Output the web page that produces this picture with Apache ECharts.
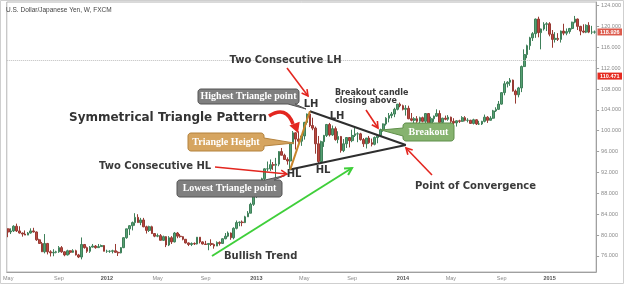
<!DOCTYPE html>
<html><head><meta charset="utf-8">
<script src="https://cdn.jsdelivr.net/npm/echarts@6/dist/echarts.min.js"></script>
<style>html,body{margin:0;padding:0;background:#fff}#c{width:624px;height:284px}</style>
</head><body><div id="c"></div><script>
const chartTitle = 'U.S. Dollar/Japanese Yen, W, FXCM';
// weekly candles: [weekStart, open, close, low, high]
const weeks2011 = [
['2011-05-01',81.2,80.6,79.6,81.3],['2011-05-08',80.6,80.8,80.2,81.3],['2011-05-15',80.8,81.7,80.6,81.9],['2011-05-22',81.7,80.8,80.6,82.2],
['2011-05-29',80.8,80.4,80.3,81.7],['2011-06-05',80.4,80.2,79.7,80.5],['2011-06-12',80.2,80.0,80.0,80.9],['2011-06-19',80.0,80.4,80.0,80.6],
['2011-06-26',80.4,80.8,80.3,81.3],['2011-07-03',80.8,80.6,80.5,81.4],['2011-07-10',80.6,79.1,78.9,80.7],['2011-07-17',79.1,78.4,78.4,79.3],
['2011-07-24',78.4,76.8,76.8,78.7],['2011-07-31',76.8,78.4,76.5,80.2],['2011-08-07',78.4,76.8,76.3,78.5],['2011-08-14',76.8,76.6,75.9,77.1],
['2011-08-21',76.6,76.7,75.95,77.3],['2011-08-28',76.7,76.8,76.5,77.0],['2011-09-04',76.8,77.6,76.6,77.9],['2011-09-11',77.6,76.8,76.6,77.9],
['2011-09-18',76.8,76.2,75.95,76.9],['2011-09-25',76.2,77.0,76.1,77.2],['2011-10-02',77.0,76.7,76.3,77.1],['2011-10-09',76.7,77.0,76.6,77.3],
['2011-10-16',77.0,76.2,76.1,77.2],['2011-10-23',76.2,75.8,75.6,76.4],['2011-10-30',75.8,78.2,75.35,79.55],['2011-11-06',78.2,77.6,77.4,78.3],
['2011-11-13',77.6,76.9,76.6,77.8],['2011-11-20',76.9,77.7,76.6,77.9],['2011-11-27',77.7,77.9,77.6,78.3],['2011-12-04',77.9,77.6,77.4,78.1],
['2011-12-11',77.6,77.8,77.6,78.3],['2011-12-18',77.8,78.0,77.8,78.2],['2011-12-25',78.0,76.9,76.9,78.1]
];
const weeks2012 = [
['2012-01-01',76.9,76.9,76.6,77.2],['2012-01-08',76.9,76.9,76.6,77.1],['2012-01-15',76.9,77.0,76.5,77.2],['2012-01-22',77.0,76.7,76.6,78.3],
['2012-01-29',76.7,76.6,76.0,76.9],['2012-02-05',76.6,77.6,76.5,77.7],['2012-02-12',77.6,79.5,77.5,79.6],['2012-02-19',79.5,81.2,79.3,81.2],
['2012-02-26',81.2,81.8,80.0,81.9],['2012-03-04',81.8,82.4,80.9,82.6],['2012-03-11',82.4,83.4,81.8,84.2],['2012-03-18',83.4,82.4,82.4,84.0],
['2012-03-25',82.4,82.9,81.9,83.3],['2012-04-01',82.9,81.6,81.5,83.3],['2012-04-08',81.6,80.9,80.3,81.8],['2012-04-15',80.9,81.6,80.6,81.8],
['2012-04-22',81.6,80.3,80.2,81.8],['2012-04-29',80.3,79.8,79.6,80.4],['2012-05-06',79.8,79.9,79.6,80.3],['2012-05-13',79.9,79.0,79.0,80.2],
['2012-05-20',79.0,79.7,78.9,79.9],['2012-05-27',79.7,78.1,77.7,79.8],['2012-06-03',78.1,79.5,77.9,79.8],['2012-06-10',79.5,78.7,78.3,79.8],
['2012-06-17',78.7,80.4,78.6,80.6],['2012-06-24',80.4,79.8,79.4,80.6],['2012-07-01',79.8,79.7,79.5,80.2],['2012-07-08',79.7,79.2,79.0,79.8],
['2012-07-15',79.2,78.5,78.4,79.2],['2012-07-22',78.5,78.2,77.9,78.6],['2012-07-29',78.2,78.4,77.9,78.6],['2012-08-05',78.4,78.3,78.1,78.6],
['2012-08-12',78.3,79.6,78.2,79.6],['2012-08-19',79.6,78.7,78.4,79.6],['2012-08-26',78.7,78.3,78.2,78.8],['2012-09-02',78.3,78.2,78.1,78.9],
['2012-09-09',78.2,78.4,77.1,78.4],['2012-09-16',78.4,78.2,77.9,79.2],['2012-09-23',78.2,77.9,77.4,78.4],['2012-09-30',77.9,78.6,77.9,78.8],
['2012-10-07',78.6,78.4,78.0,78.8],['2012-10-14',78.4,79.3,78.4,79.4],['2012-10-21',79.3,79.8,79.2,80.4],['2012-10-28',79.8,80.4,79.6,80.7],
['2012-11-04',80.4,79.5,79.1,80.5],['2012-11-11',79.5,81.3,79.2,81.5],['2012-11-18',81.3,82.4,81.1,82.8],['2012-11-25',82.4,82.5,81.7,82.6],
['2012-12-02',82.5,82.4,81.7,82.8],['2012-12-09',82.4,83.5,82.3,83.7],['2012-12-16',83.5,84.2,83.5,84.6],['2012-12-23',84.2,85.9,84.2,86.2],
['2012-12-30',85.9,88.2,85.6,88.4]
];
const weeks2013 = [
['2013-01-06',88.2,89.2,87.1,89.3],['2013-01-13',89.2,90.1,87.8,90.2],['2013-01-20',90.1,90.8,88.1,91.0],['2013-01-27',90.8,92.7,90.2,92.8],
['2013-02-03',92.7,92.7,92.2,94.1],['2013-02-10',92.7,93.5,92.3,94.5],['2013-02-17',93.5,93.4,92.5,94.0],['2013-02-24',93.4,93.6,90.9,94.8],
['2013-03-03',93.6,96.0,93.2,96.1],['2013-03-10',96.0,95.3,95.3,96.7],['2013-03-17',95.3,94.5,94.4,95.6],['2013-03-24',94.5,94.2,93.5,94.9],
['2013-03-31',94.2,97.5,92.56,97.6],['2013-04-07',97.5,99.6,97.5,99.95],['2013-04-14',99.6,98.4,96.4,99.7],['2013-04-21',98.4,98.0,97.7,99.9],
['2013-04-28',98.0,99.0,97.1,99.2],['2013-05-05',99.0,101.6,98.3,101.7],['2013-05-12',101.6,103.2,101.2,103.3],['2013-05-19',103.2,101.0,100.7,103.74],
['2013-05-26',101.0,100.5,100.1,102.5],['2013-06-02',100.5,97.5,95.6,100.8],['2013-06-09',97.5,94.1,93.8,99.0],['2013-06-16',94.1,97.9,93.9,98.1],
['2013-06-23',97.9,99.1,96.9,99.2],['2013-06-30',99.1,101.2,98.8,101.3],['2013-07-07',101.2,99.2,98.9,101.5],['2013-07-14',99.2,100.4,99.0,101.0],
['2013-07-21',100.4,98.3,98.1,100.8],['2013-07-28',98.3,98.9,97.6,99.9],['2013-08-04',98.9,96.2,95.8,99.0],['2013-08-11',96.2,97.5,95.9,98.4],
['2013-08-18',97.5,98.7,96.7,98.8],['2013-08-25',98.7,98.1,96.8,98.8],['2013-09-01',98.1,99.1,97.8,100.2],['2013-09-08',99.1,99.4,98.8,100.6],
['2013-09-15',99.4,99.4,97.8,99.7],['2013-09-22',99.4,98.3,98.1,99.6],['2013-09-29',98.3,97.5,96.9,98.6],['2013-10-06',97.5,98.6,96.6,98.6],
['2013-10-13',98.6,97.7,97.5,99.0],['2013-10-20',97.7,97.4,97.0,98.5],['2013-10-27',97.4,98.7,97.2,98.9],['2013-11-03',98.7,99.1,97.6,99.1],
['2013-11-10',99.1,100.2,98.8,100.4],['2013-11-17',100.2,101.3,99.8,101.4],['2013-11-24',101.3,102.4,101.0,102.6],['2013-12-01',102.4,102.9,101.6,103.4],
['2013-12-08',102.9,103.2,102.4,103.6],['2013-12-15',103.2,104.1,102.6,104.4],['2013-12-22',104.1,105.1,103.9,105.1],['2013-12-29',105.1,104.8,104.5,105.4]
];
const weeks2014 = [
['2014-01-05',104.8,104.1,103.9,105.0],['2014-01-12',104.1,104.3,102.9,104.9],['2014-01-19',104.3,102.3,102.2,104.8],['2014-01-26',102.3,102.0,101.8,103.4],
['2014-02-02',102.0,102.3,100.8,102.6],['2014-02-09',102.3,101.8,101.5,102.8],['2014-02-16',101.8,102.5,101.3,102.7],['2014-02-23',102.5,101.8,101.6,102.7],
['2014-03-02',101.8,103.3,101.2,103.4],['2014-03-09',103.3,101.3,101.2,103.4],['2014-03-16',101.3,102.3,101.2,102.7],['2014-03-23',102.3,102.8,101.7,102.9],
['2014-03-30',102.8,103.3,102.7,104.1],['2014-04-06',103.3,101.6,101.3,103.9],['2014-04-13',101.6,102.4,101.3,102.5],['2014-04-20',102.4,102.2,102.0,102.9],
['2014-04-27',102.2,102.6,101.9,103.0],['2014-05-04',102.6,101.8,101.4,102.7],['2014-05-11',101.8,101.5,101.1,102.4],['2014-05-18',101.5,101.9,100.8,102.0],
['2014-05-25',101.9,101.8,101.5,102.1],['2014-06-01',101.8,102.5,101.7,102.8],['2014-06-08',102.5,102.0,101.8,102.8],['2014-06-15',102.0,102.0,101.6,102.4],
['2014-06-22',102.0,101.4,101.4,102.1],['2014-06-29',101.4,102.1,101.2,102.3],['2014-07-06',102.1,101.3,101.1,102.2],['2014-07-13',101.3,101.3,101.1,101.9],
['2014-07-20',101.3,101.8,101.1,101.9],['2014-07-27',101.8,102.6,101.6,103.1],['2014-08-03',102.6,102.0,101.5,102.8],['2014-08-10',102.0,102.4,102.0,102.8],
['2014-08-17',102.4,103.8,102.3,104.0],['2014-08-24',103.8,104.1,103.6,104.5],['2014-08-31',104.1,105.1,104.0,105.7],['2014-09-07',105.1,107.3,105.0,107.4],
['2014-09-14',107.3,109.0,106.8,109.5],['2014-09-21',109.0,109.3,108.3,109.5],['2014-09-28',109.3,109.7,108.6,110.1],['2014-10-05',109.7,107.6,107.5,109.8],
['2014-10-12',107.6,106.9,105.2,107.9],['2014-10-19',106.9,108.2,106.4,108.4],['2014-10-26',108.2,112.3,107.4,112.5],['2014-11-02',112.3,114.6,112.2,115.6],
['2014-11-09',114.6,116.3,113.9,116.5],['2014-11-16',116.3,117.8,115.5,118.0],['2014-11-23',117.8,118.6,117.2,118.9],['2014-11-30',118.6,121.4,117.8,121.5],
['2014-12-07',121.4,118.8,117.9,121.85],['2014-12-14',118.8,119.5,115.6,119.6],['2014-12-21',119.5,120.4,119.2,120.8],['2014-12-28',120.4,120.5,119.1,120.8]
];
const weeks2015 = [
['2015-01-04',120.5,118.5,118.1,120.8],['2015-01-11',118.5,117.5,115.9,119.3],['2015-01-18',117.5,117.7,116.9,118.9],['2015-01-25',117.7,117.5,117.2,118.7],
['2015-02-01',117.5,119.1,116.9,119.2],['2015-02-08',119.1,118.7,118.3,120.5],['2015-02-15',118.7,119.0,118.3,119.6],['2015-02-22',119.0,119.6,118.6,119.7],
['2015-03-01',119.6,120.8,119.4,120.9],['2015-03-08',120.8,121.4,120.6,122.0],['2015-03-15',121.4,120.0,119.3,121.5],['2015-03-22',120.0,119.1,118.3,120.1],
['2015-03-29',119.1,118.9,118.7,120.4],['2015-04-05',118.9,120.2,118.7,120.4],['2015-04-12',120.2,118.9,118.7,120.8],['2015-04-19',118.9,118.9,118.5,120.1],
['2015-04-26',118.9,118.926,118.6,119.2]
];
const yTickValues = [76,80,84,88,92,96,100,104,108,112,116,120,124];
const lastPrice = 118.926;
const markerPrice = 110.471;
const guidePrice = 113.42;
const triangleUpper = [['2013-05-19',103.74],['2014-01-12',97.27]];
const triangleLower = [['2013-03-31',92.56],['2014-01-12',97.27]];
const triangleHeight = [['2013-03-31',92.56],['2013-05-19',103.74]];

const rows = [].concat(weeks2011, weeks2012, weeks2013, weeks2014, weeks2015);
const dates = rows.map(r => r[0]);
const ohlc = rows.map(r => [r[1], r[2], r[3], r[4]]);
const monthLabel = {5:'May', 9:'Sep'};
function isLabelWeek(d){ const m=+d.slice(5,7), day=+d.slice(8,10); return day<=7 && (m===1||m===5||m===9); }

const chart = echarts.init(document.getElementById('c'), null, {renderer:'canvas'});
chart.setOption({
  animation:false,
  backgroundColor:'#fff',
  grid:{left:2, right:27, top:2, bottom:12, show:true, borderColor:'#b4b4b4', borderWidth:1},
  xAxis:{type:'category', data:dates, boundaryGap:true,
    axisLine:{lineStyle:{color:'#a0a0a0'}},
    axisTick:{interval:(i,v)=>isLabelWeek(dates[i]), length:3, lineStyle:{color:'#a0a0a0'}},
    axisLabel:{interval:(i,v)=>isLabelWeek(dates[i]), margin:3, fontSize:5.5, color:'#8a8a8a', fontFamily:'Liberation Sans',
      formatter:v=>{const m=+v.slice(5,7); return m===1 ? '{y|'+v.slice(0,4)+'}' : '{m|'+monthLabel[m]+'}';},
      rich:{y:{fontSize:5.5, fontWeight:'bold', color:'#555', fontFamily:'Liberation Sans'}, m:{fontSize:5.5, color:'#8a8a8a', fontFamily:'Liberation Sans'}}},
    splitLine:{show:false}},
  yAxis:{type:'value', position:'right', min:72.93, max:124.67, scale:true,
    axisLine:{show:true, lineStyle:{color:'#a0a0a0'}},
    axisTick:{show:true, length:3, customValues:yTickValues, lineStyle:{color:'#a0a0a0'}},
    axisLabel:{customValues:yTickValues, margin:5, fontSize:5.5, color:'#8a8a8a', fontFamily:'Liberation Sans', formatter:v=>v.toFixed(3)},
    splitLine:{show:false}},
  series:[{type:'candlestick', data:ohlc, barWidth:2.2,
    itemStyle:{color:'#56a072', color0:'#bb4840', borderColor:'#3f805a', borderColor0:'#983a33', borderWidth:1},
    markLine:{silent:true, symbol:['none','none'], label:{show:false}, animation:false,
      data:[
        {yAxis:guidePrice, lineStyle:{type:'dotted', color:'#bdbdbd', width:1}},
        [{coord:triangleUpper[0], lineStyle:{color:'#2e2e2e', width:2, type:'solid'}}, {coord:triangleUpper[1]}],
        [{coord:triangleLower[0], lineStyle:{color:'#2e2e2e', width:2, type:'solid'}}, {coord:triangleLower[1]}],
        [{coord:triangleHeight[0], lineStyle:{color:'#c8852b', width:2, type:'solid'}}, {coord:triangleHeight[1]}]
      ]}}]
});

const RED='#e3261f', DARK='#3a3a3a';
const G=[];
function txt(text,x,y,font,fill,align){ return {type:'text', x:x, y:y, z:120, silent:true,
  style:{text:text, font:font, fill:fill, textAlign:align||'left', align:align||'left', textVerticalAlign:'middle', verticalAlign:'middle'}}; }
function arrow(x1,y1,x2,y2,color,w,hl){ const a=Math.atan2(y2-y1,x2-x1), s=0.5;
  return [{type:'line', z:110, silent:true, shape:{x1,y1,x2,y2}, style:{stroke:color, lineWidth:w}},
    {type:'polyline', z:110, silent:true, shape:{points:[[x2-hl*Math.cos(a-s),y2-hl*Math.sin(a-s)],[x2,y2],[x2-hl*Math.cos(a+s),y2-hl*Math.sin(a+s)]]}, style:{stroke:color, lineWidth:w, fill:null}}]; }
function callout(x,y,w,h,r,side,tail,fill,stroke){
  const pts=[]; const arc=(cx,cy,a0)=>{for(let i=0;i<=4;i++){const a=a0+i*Math.PI/8; pts.push([cx+r*Math.cos(a), cy+r*Math.sin(a)]);}};
  arc(x+r,y+r,Math.PI); if(side==='top') pts.push(...tail);
  arc(x+w-r,y+r,1.5*Math.PI); if(side==='right') pts.push(...tail);
  arc(x+w-r,y+h-r,0); if(side==='bottom') pts.push(...tail);
  arc(x+r,y+h-r,0.5*Math.PI); if(side==='left') pts.push(...tail);
  return {type:'polygon', z:105, silent:true, shape:{points:pts}, style:{fill:fill, stroke:stroke, lineWidth:1}};
}
// outer frame & title
G.push({type:'rect', z:1, silent:true, shape:{x:0.5,y:0.5,width:623,height:283}, style:{fill:null, stroke:'#cfcfcf', lineWidth:1}});
G.push(txt(chartTitle,6,10,'6.5px "Liberation Sans"','#444'));
// price tags
[[lastPrice,'#dc5a4c'],[markerPrice,'#e52a20']].forEach(([v,c])=>{
  const y=chart.convertToPixel({yAxisIndex:0}, v);
  G.push({type:'rect', z:120, silent:true, shape:{x:597.5,y:y-3.5,width:24.5,height:7}, style:{fill:c}});
  G.push(txt(v.toFixed(3),609.8,y+0.3,'bold 5.5px "Liberation Sans"','#fff','center'));
});
// bold annotation texts
const B10='bold 10px "DejaVu Sans"';
G.push(txt('Two Consecutive LH',285.5,60.5,B10,DARK,'center'));
G.push(txt('Symmetrical Triangle Pattern',69,117.5,'bold 12px "DejaVu Sans"','#333'));
G.push(txt('Two Consecutive HL',99,166.5,B10,DARK));
G.push(txt('Point of Convergence',415,186.5,B10,DARK));
G.push(txt('Bullish Trend',224,256.5,B10,DARK));
G.push(txt('Breakout candle',335,92.5,'bold 8px "DejaVu Sans"',DARK));
G.push(txt('closing above',335,100.8,'bold 8px "DejaVu Sans"',DARK));
G.push(txt('LH',311,104,B10,'#333','center'));
G.push(txt('LH',337,116,B10,'#333','center'));
G.push(txt('HL',294,174.5,B10,'#333','center'));
G.push(txt('HL',323,170.5,B10,'#333','center'));
// callouts
const S10='bold 10px "Liberation Serif"';
G.push(callout(198,89,101,15,3,'bottom',[[295,104],[306,109],[288,104]],'#7f7f7f','#555'));
G.push(txt('Highest Triangle point',248.5,96.8,S10,'#fff','center'));
G.push(callout(177,180,105,17,3,'top',[[265,180],[285,175.5],[274,180]],'#7f7f7f','#555'));
G.push(txt('Lowest Triangle point',229.5,188.8,S10,'#fff','center'));
G.push(callout(188,133,76,18,3,'right',[[264,138],[294,143],[264,146]],'#d6a560','#b4823d'));
G.push(txt('Triangle Height',226,142.3,S10,'#fff','center'));
G.push(callout(403,123,51,18,3,'left',[[403,136],[381,130],[403,128]],'#86b36f','#5f8f4a'));
G.push(txt('Breakout',428.5,132.3,S10,'#fff','center'));
// arrows
G.push(...arrow(287,68,308,96,RED,1.6,7));
G.push(...arrow(215,167,287,174,RED,1.6,7));
G.push(...arrow(366,110,378,128,RED,1.6,7));
G.push(...arrow(432,175,406,148,RED,1.6,7));
G.push(...arrow(212,256,352,168,'#3fcf3a',2,8));
// curved thick arrow
G.push({type:'bezierCurve', z:110, silent:true, shape:{x1:269,y1:116,cpx1:286,cpy1:105,x2:293,y2:124}, style:{stroke:RED, lineWidth:3.6, fill:null}});
(function(){const tx=298,ty=133, a=Math.atan2(19,7), L=10, W=5.5; const bx=tx-L*Math.cos(a), by=ty-L*Math.sin(a);
  G.push({type:'polygon', z:110, silent:true, shape:{points:[[tx,ty],[bx+W*Math.sin(a),by-W*Math.cos(a)],[bx-W*Math.sin(a),by+W*Math.cos(a)]]}, style:{fill:RED}});})();
chart.setOption({graphic:{elements:G}});
</script></body></html>
